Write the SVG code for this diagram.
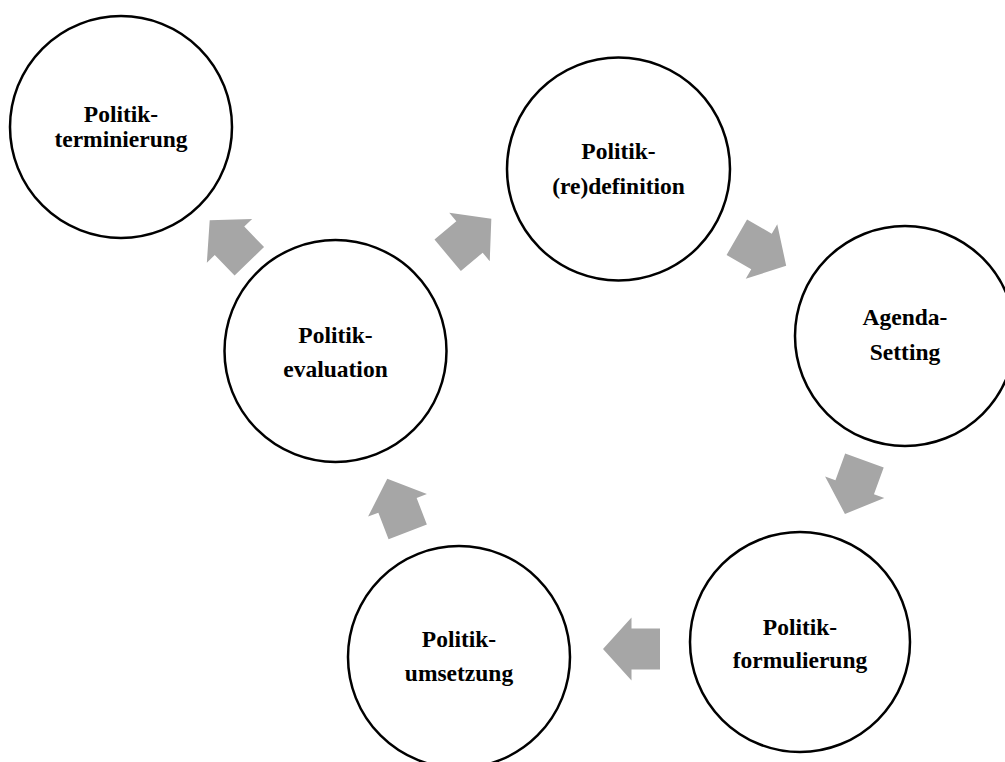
<svg xmlns="http://www.w3.org/2000/svg" width="1005" height="762" viewBox="0 0 1005 762">
<defs>
<style>
.node circle{fill:#fff;stroke:#000;stroke-width:2.5}
.node text{font-family:"Liberation Serif","Times New Roman",serif;font-weight:bold;font-size:23.5px;fill:#000;text-anchor:middle}
.arr{fill:#a6a6a6}
</style>
<polygon id="ar" points="-28.5,-20.5 0,-20.5 0,-31.5 28.5,0 0,31.5 0,20.5 -28.5,20.5"/>
</defs>
<rect width="1005" height="762" fill="#fff"/>
<g id="connectors" class="arr">
<use href="#ar" transform="translate(469.5,237) rotate(-40)"/>
<use href="#ar" transform="translate(761.5,251.5) rotate(30)"/>
<use href="#ar" transform="translate(854.7,487.2) rotate(110)"/>
<use href="#ar" transform="translate(631.5,649) rotate(180)"/>
<use href="#ar" transform="translate(397.5,505.3) rotate(-111)"/>
<use href="#ar" transform="translate(229.5,240.8) rotate(-134)"/>
</g>
<g id="n-terminierung" class="node">
<circle cx="121" cy="127" r="111"/>
<text x="121" y="122">Politik-</text>
<text x="121" y="147">terminierung</text>
</g>
<g id="n-redefinition" class="node">
<circle cx="618.5" cy="169" r="111.5"/>
<text x="618.5" y="159">Politik-</text>
<text x="618.5" y="194">(re)definition</text>
</g>
<g id="n-agenda" class="node">
<circle cx="905" cy="336" r="110"/>
<text x="905" y="325">Agenda-</text>
<text x="905" y="360">Setting</text>
</g>
<g id="n-formulierung" class="node">
<circle cx="800" cy="642" r="110"/>
<text x="800" y="635">Politik-</text>
<text x="800" y="668">formulierung</text>
</g>
<g id="n-umsetzung" class="node">
<circle cx="459" cy="657" r="111"/>
<text x="459" y="647">Politik-</text>
<text x="459" y="681">umsetzung</text>
</g>
<g id="n-evaluation" class="node">
<circle cx="335.5" cy="351" r="111"/>
<text x="335.5" y="343">Politik-</text>
<text x="335.5" y="377">evaluation</text>
</g>
</svg>
